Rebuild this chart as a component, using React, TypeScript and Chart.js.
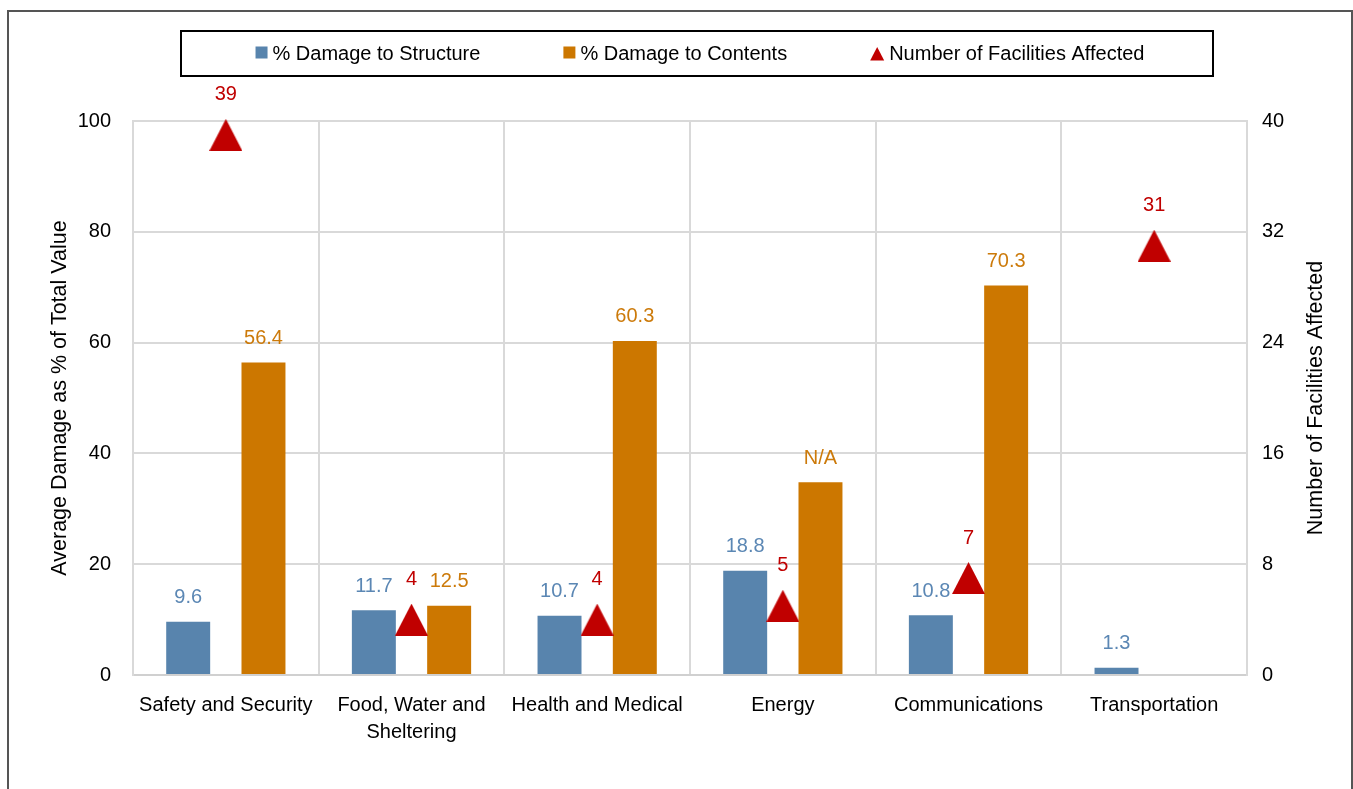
import React, { useEffect, useRef } from "react";
import { Chart, registerables } from "chart.js";

Chart.register(...registerables);

const FONT = "'Liberation Sans', Arial, Helvetica, sans-serif";

const categories: (string | string[])[] = [
  "Safety and Security",
  ["Food, Water and", "Sheltering"],
  "Health and Medical",
  "Energy",
  "Communications",
  "Transportation",
];
const structureDamage = [9.6, 11.7, 10.7, 18.8, 10.8, 1.3];
const structureLabels = ["9.6", "11.7", "10.7", "18.8", "10.8", "1.3"];
const contentsDamage = [56.4, 12.5, 60.3, 34.8, 70.3, null];
const contentsLabels = ["56.4", "12.5", "60.3", "N/A", "70.3", ""];
const facilitiesAffected = [39, 4, 4, 5, 7, 31];
const facilitiesLabels = ["39", "4", "4", "5", "7", "31"];

const seriesNames = [
  "% Damage to Structure",
  "% Damage to Contents",
  "Number of Facilities Affected",
];
const leftAxisRange = [0, 100, 20];
const rightAxisRange = [0, 40, 8];
const leftTitle = "Average Damage as % of Total Value";
const rightTitle = "Number of Facilities Affected";

const BLUE = "#5884AD";
const ORANGE = "#CC7700";
const RED = "#C00000";
const BLUE_TEXT = "#5B87B4";
const ORANGE_TEXT = "#CC7A0A";
const GRID = "#D9D9D9";

const dataLabelPlugin = {
  id: "dataLabels",
  afterDatasetsDraw(chart: any) {
    const ctx = chart.ctx;
    chart.data.datasets.forEach((ds: any, di: number) => {
      const meta = chart.getDatasetMeta(di);
      if (meta.hidden) return;
      ctx.save();
      ctx.font = `20px ${FONT}`;
      ctx.fillStyle = ds.labelColor;
      ctx.textAlign = "center";
      ctx.textBaseline = "middle";
      meta.data.forEach((el: any, i: number) => {
        const v = ds.data[i];
        if (v === null || v === undefined) return;
        const text = ds.valueLabels ? ds.valueLabels[i] : String(v);
        ctx.fillText(text, el.x, el.y - ds.labelOffset);
      });
      ctx.restore();
    });
  },
};

const boxLegendPlugin = {
  id: "boxLegend",
  afterDraw(chart: any) {
    const { ctx, chartArea } = chart;
    const left = chartArea.left + 48;
    const right = chartArea.right - 34;
    const top = chartArea.top - 90;
    const bottom = chartArea.top - 45;
    ctx.save();
    ctx.strokeStyle = "#000";
    ctx.lineWidth = 2;
    ctx.strokeRect(left, top, right - left, bottom - top);
    ctx.font = `20px ${FONT}`;
    ctx.textBaseline = "middle";
    ctx.textAlign = "left";
    const cy = (top + bottom) / 2;
    const items = chart.data.datasets.map((ds: any) => ({
      text: ds.label,
      color: ds.legendColor,
      kind: ds.type === "line" ? "tri" : "rect",
    }));
    const gap = 83;
    const widths = items.map(
      (it: any) => (it.kind === "tri" ? 14 : 12) + 5 + ctx.measureText(it.text).width
    );
    const total = widths.reduce((a: number, b: number) => a + b, 0) + gap * (items.length - 1);
    let x = (left + right) / 2 + 3 - total / 2;
    items.forEach((it: any, i: number) => {
      ctx.fillStyle = it.color;
      if (it.kind === "rect") {
        ctx.fillRect(x, cy - 7, 12, 12);
        ctx.fillStyle = "#000";
        ctx.fillText(it.text, x + 17, cy + 1);
      } else {
        ctx.beginPath();
        ctx.moveTo(x, cy + 7);
        ctx.lineTo(x + 7, cy - 6.5);
        ctx.lineTo(x + 14, cy + 7);
        ctx.closePath();
        ctx.fill();
        ctx.fillStyle = "#000";
        ctx.fillText(it.text, x + 19, cy + 1);
      }
      x += widths[i] + gap;
    });
    ctx.restore();
  },
};

const rightTitlePlugin = {
  id: "rightTitle",
  afterDraw(chart: any) {
    const { ctx, chartArea } = chart;
    const scale = chart.scales.y1;
    ctx.save();
    ctx.translate(scale.right - 37, (chartArea.top + chartArea.bottom) / 2);
    ctx.rotate(-Math.PI / 2);
    ctx.font = `21.5px ${FONT}`;
    ctx.fillStyle = "#000";
    ctx.textAlign = "center";
    ctx.textBaseline = "middle";
    ctx.fillText(rightTitle, 0, 0);
    ctx.restore();
  },
};

export default function App() {
  const ref = useRef<HTMLCanvasElement>(null);

  useEffect(() => {
    const canvas = ref.current;
    if (!canvas) return;
    const tri = document.createElement("canvas");
    tri.width = 33;
    tri.height = 32;
    const tctx = tri.getContext("2d")!;
    tctx.fillStyle = RED;
    tctx.beginPath();
    tctx.moveTo(0, 32);
    tctx.lineTo(16.5, 0);
    tctx.lineTo(33, 32);
    tctx.closePath();
    tctx.fill();

    const chart = new Chart(canvas, {
      type: "bar",
      data: {
        labels: categories,
        datasets: [
          {
            type: "bar",
            label: seriesNames[0],
            data: structureDamage,
            backgroundColor: BLUE,
            legendColor: BLUE,
            yAxisID: "y",
            order: 1,
            categoryPercentage: 0.811,
            barPercentage: 0.584,
            valueLabels: structureLabels,
            labelColor: BLUE_TEXT,
            labelOffset: 24,
          },
          {
            type: "bar",
            label: seriesNames[1],
            data: contentsDamage,
            backgroundColor: ORANGE,
            legendColor: ORANGE,
            yAxisID: "y",
            order: 1,
            categoryPercentage: 0.811,
            barPercentage: 0.584,
            valueLabels: contentsLabels,
            labelColor: ORANGE_TEXT,
            labelOffset: 24,
          },
          {
            type: "line",
            label: seriesNames[2],
            data: facilitiesAffected,
            yAxisID: "y1",
            showLine: false,
            pointStyle: tri,
            pointRadius: 16,
            pointHoverRadius: 16,
            clip: false,
            order: 0,
            legendColor: RED,
            valueLabels: facilitiesLabels,
            labelColor: RED,
            labelOffset: 40,
          },
        ],
      } as any,
      options: {
        responsive: false,
        animation: false,
        events: [],
        layout: { padding: { top: 121, left: 0, right: 0, bottom: 0 } },
        plugins: {
          legend: { display: false },
          tooltip: { enabled: false },
        },
        scales: {
          x: {
            grid: { color: GRID, lineWidth: 2, offset: true, drawTicks: false },
            border: { color: "#D0D0D0", width: 2 },
            ticks: {
              color: "#000",
              font: { family: FONT, size: 20, lineHeight: 1.35 },
              padding: 17,
              maxRotation: 0,
              autoSkip: false,
            },
            afterFit: (s: any) => {
              s.height = 114;
            },
          },
          y: {
            position: "left",
            min: leftAxisRange[0],
            max: leftAxisRange[1],
            ticks: {
              stepSize: leftAxisRange[2],
              color: "#000",
              font: { family: FONT, size: 20 },
              padding: 22,
            },
            grid: { color: GRID, lineWidth: 2, drawTicks: false },
            border: { color: GRID, width: 2 },
            title: {
              display: true,
              text: leftTitle,
              color: "#000",
              font: { family: FONT, size: 21.5 },
              padding: { top: 47, bottom: 0 },
            },
            afterFit: (s: any) => {
              s.width = 133;
            },
          },
          y1: {
            position: "right",
            min: rightAxisRange[0],
            max: rightAxisRange[1],
            ticks: {
              stepSize: rightAxisRange[2],
              color: "#000",
              font: { family: FONT, size: 20 },
              padding: 15,
            },
            grid: { display: false, drawTicks: false },
            border: { color: GRID, width: 2 },
            afterFit: (s: any) => {
              s.width = 106;
            },
          },
        },
      } as any,
      plugins: [dataLabelPlugin, boxLegendPlugin, rightTitlePlugin],
    });
    return () => chart.destroy();
  }, []);

  return (
    <div
      style={{
        position: "fixed",
        left: 0,
        top: 0,
        width: 1353,
        height: 789,
        overflow: "hidden",
        background: "#fff",
      }}
    >
      <canvas
        ref={ref}
        width={1353}
        height={789}
        style={{ position: "absolute", left: 0, top: 0, display: "block" }}
      />
      <div
        style={{
          position: "absolute",
          left: 7,
          top: 10,
          width: 1346,
          height: 800,
          boxSizing: "border-box",
          borderTop: "2px solid #555",
          borderLeft: "2px solid #555",
          borderRight: "2px solid #555",
          pointerEvents: "none",
        }}
      />
    </div>
  );
}
